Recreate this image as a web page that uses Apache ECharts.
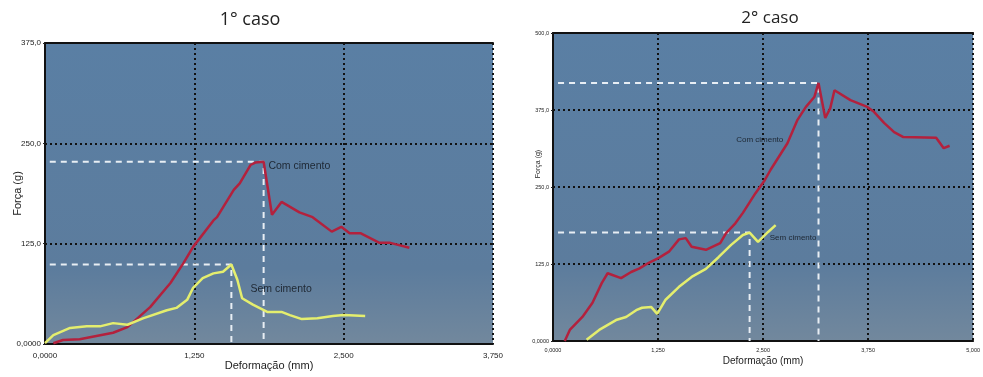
<!DOCTYPE html>
<html>
<head>
<meta charset="utf-8">
<script src="https://cdn.jsdelivr.net/npm/echarts@6/dist/echarts.min.js"></script>
<style>
  html, body { margin: 0; padding: 0; background: #ffffff; }
  #chart { width: 983px; height: 377px; }
</style>
</head>
<body>
<div id="chart"></div>
<script>
// Case 1 – force (g) against deformation (mm)
const case1ComCimento = [
  [0.07, 1], [0.15, 5], [0.29, 6], [0.57, 14], [0.69, 21], [0.88, 46], [1.05, 76],
  [1.16, 101], [1.24, 121], [1.41, 154], [1.44, 158], [1.58, 192], [1.63, 200],
  [1.72, 223], [1.76, 226], [1.83, 227], [1.90, 161], [1.98, 177], [2.13, 164],
  [2.24, 158], [2.40, 140], [2.48, 146], [2.55, 138], [2.64, 138], [2.80, 126],
  [2.89, 126], [3.05, 120]
];
const case1SemCimento = [
  [0.00, 1], [0.07, 11], [0.21, 20], [0.35, 22], [0.46, 22], [0.57, 26], [0.69, 24],
  [0.82, 32], [1.02, 42], [1.10, 45], [1.19, 55], [1.24, 70], [1.32, 82], [1.41, 88],
  [1.49, 90], [1.56, 99], [1.61, 80], [1.65, 57], [1.74, 49], [1.86, 40], [1.98, 40],
  [2.05, 36], [2.15, 31], [2.28, 32], [2.41, 35], [2.50, 36], [2.68, 35]
];

// Case 2 – force (g) against deformation (mm)
const case2ComCimento = [
  [0.14, 0], [0.20, 18], [0.35, 39], [0.47, 62], [0.58, 94], [0.65, 110], [0.81, 102],
  [0.93, 112], [1.03, 118], [1.14, 127], [1.26, 135], [1.38, 145], [1.50, 165],
  [1.58, 167], [1.65, 153], [1.82, 148], [1.99, 159], [2.06, 175], [2.17, 191],
  [2.26, 208], [2.41, 240], [2.52, 261], [2.59, 278], [2.79, 321], [2.91, 359],
  [3.01, 380], [3.11, 396], [3.16, 419], [3.24, 362], [3.30, 378], [3.35, 407],
  [3.54, 391], [3.74, 380], [3.82, 372], [3.94, 354], [4.06, 339], [4.17, 331],
  [4.56, 330], [4.65, 313], [4.72, 317]
];
const case2SemCimento = [
  [0.40, 2], [0.55, 18], [0.75, 34], [0.87, 39], [0.99, 50], [1.06, 54], [1.17, 55],
  [1.24, 44], [1.34, 67], [1.50, 88], [1.65, 104], [1.82, 117], [1.97, 136],
  [2.12, 156], [2.26, 172], [2.34, 176], [2.44, 161], [2.56, 177], [2.65, 188]
];

const caseTitles = ['1° caso', '2° caso'];
const seriesNames = ['Com cimento', 'Sem cimento'];
const xName = 'Deformação (mm)';
const yName = 'Força (g)';

// Dashed guide from the y axis to a peak point and down to the x axis
// (peak searched among points with x <= xLimit)
function peakGuide(data, xStart, xLimit) {
  let best = null;
  data.forEach(p => {
    if (p[0] <= xLimit && (!best || p[1] > best[1])) best = p;
  });
  return [[xStart, best[1]], [best[0], best[1]], [best[0], 0]];
}

const fmtX = v => v === 0 ? '0,0000' : v.toFixed(3).replace('.', ',');
const fmtY = v => v === 0 ? '0,0000' : v.toFixed(1).replace('.', ',');

const plotBg = {
  type: 'linear', x: 0, y: 0, x2: 0, y2: 1,
  colorStops: [
    { offset: 0, color: '#5a7fa4' },
    { offset: 0.75, color: '#5c7c9d' },
    { offset: 1, color: '#72889d' }
  ]
};
const dotted = { color: '#111111', width: 2, type: [2, 3] };
const RED = '#b3213d';
const YELLOW = '#e4ee6e';

function valueAxes(grid, xMax, yMax, big) {
  const labelSize = big ? 8 : 5.5;
  return {
    x: [{
      type: 'value', gridIndex: grid, min: 0, max: xMax, interval: 1.25,
      name: xName, nameLocation: 'middle', nameGap: big ? 16 : 15, nameMoveOverlap: false,
      nameTextStyle: { fontFamily: 'Liberation Sans', fontSize: big ? 11 : 10, color: '#222' },
      axisLine: { show: true, lineStyle: { color: '#111', width: 2 } },
      axisTick: { show: false },
      axisLabel: { formatter: fmtX, fontFamily: 'Liberation Sans', fontSize: labelSize, color: '#222', margin: big ? 8 : 6 },
      splitLine: { show: true, showMinLine: false, showMaxLine: true, lineStyle: dotted }
    }, {
      type: 'value', gridIndex: grid, min: 0, max: xMax, position: 'top',
      axisLine: { show: true, lineStyle: { color: '#111', width: 2 } },
      axisTick: { show: false }, axisLabel: { show: false }, splitLine: { show: false }
    }],
    y: [{
      type: 'value', gridIndex: grid, min: 0, max: yMax, interval: 125,
      name: yName, nameLocation: 'middle', nameGap: big ? 22 : 11, nameMoveOverlap: false,
      nameTextStyle: {
        fontFamily: 'Liberation Sans', fontSize: big ? 11 : 7, color: '#222',
        padding: big ? 0 : [0, 0, 0, 46]
      },
      axisLine: { show: true, lineStyle: { color: '#111', width: 2 } },
      axisTick: { show: true, length: 2, lineStyle: { color: '#222' } },
      axisLabel: { formatter: fmtY, fontFamily: 'Liberation Sans', fontSize: labelSize, color: '#222', margin: 4 },
      splitLine: { show: true, showMinLine: false, showMaxLine: false, lineStyle: dotted }
    }]
  };
}

const a1 = valueAxes(0, 3.75, 375, true);
const a2 = valueAxes(1, 5, 500, false);

function curve(name, data, color, xi, yi) {
  return {
    name, type: 'line', data, xAxisIndex: xi, yAxisIndex: yi,
    showSymbol: false, smooth: false, z: 5,
    lineStyle: { color, width: 2.5 }
  };
}
function guide(data, xi, yi) {
  return {
    type: 'line', data, xAxisIndex: xi, yAxisIndex: yi, showSymbol: false, silent: true, z: 4,
    lineStyle: { color: '#e8eef4', width: 2, type: [6, 5] }
  };
}
function tag(text, at, xi, yi, size) {
  return {
    type: 'scatter', data: [at], xAxisIndex: xi, yAxisIndex: yi, symbolSize: 0, z: 6, silent: true,
    label: {
      show: true, position: 'right', distance: 0, formatter: text,
      fontFamily: 'Liberation Sans', fontSize: size, color: '#0e1118'
    }
  };
}

const chart = echarts.init(document.getElementById('chart'), null, { renderer: 'canvas' });
chart.setOption({
  animation: false,
  backgroundColor: '#ffffff',
  title: [
    { text: caseTitles[0], left: 245, top: 6, textAlign: 'center',
      textStyle: { fontFamily: 'Open Sans', fontSize: 18, fontWeight: 'normal', color: '#222' } },
    { text: caseTitles[1], left: 765, top: 5, textAlign: 'center',
      textStyle: { fontFamily: 'Open Sans', fontSize: 17, fontWeight: 'normal', color: '#222' } }
  ],
  grid: [
    { left: 45, right: 490, top: 43, bottom: 33, show: true, backgroundColor: plotBg, borderWidth: 0 },
    { left: 553, right: 6, top: 33, bottom: 36, show: true, backgroundColor: plotBg, borderWidth: 0 }
  ],
  xAxis: [...a1.x, ...a2.x],
  yAxis: [...a1.y, ...a2.y],
  series: [
    guide(peakGuide(case1ComCimento, 0.04, 3.75), 0, 0),
    guide(peakGuide(case1SemCimento, 0.04, 3.75), 0, 0),
    curve(seriesNames[0], case1ComCimento, RED, 0, 0),
    curve(seriesNames[1], case1SemCimento, YELLOW, 0, 0),
    tag(seriesNames[0], [1.87, 222], 0, 0, 10.5),
    tag(seriesNames[1], [1.72, 68], 0, 0, 10.5),

    guide(peakGuide(case2ComCimento, 0.06, 5), 2, 1),
    guide(peakGuide(case2SemCimento, 0.06, 2.4), 2, 1),
    curve(seriesNames[0], case2ComCimento, RED, 2, 1),
    curve(seriesNames[1], case2SemCimento, YELLOW, 2, 1),
    tag(seriesNames[0], [2.18, 326], 2, 1, 8),
    tag(seriesNames[1], [2.58, 167], 2, 1, 8)
  ]
});
</script>
</body>
</html>
